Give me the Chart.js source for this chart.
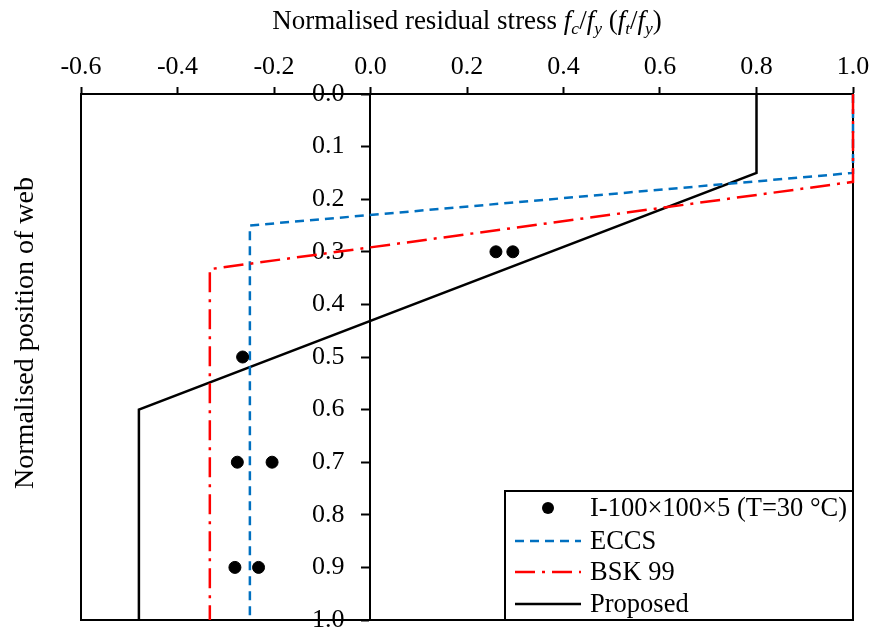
<!DOCTYPE html>
<html><head><meta charset="utf-8">
<script src="https://cdn.jsdelivr.net/npm/chart.js@4.4.0/dist/chart.umd.min.js"></script>
<style>html,body{margin:0;padding:0;background:#fff}#wrap{width:874px;height:635px}</style>
</head><body><div id="wrap"><canvas id="c" width="874" height="635"></canvas></div>
<script>
const xTicks = [-0.6, -0.4, -0.2, 0.0, 0.2, 0.4, 0.6, 0.8, 1.0];
const yTicks = [0.0, 0.1, 0.2, 0.3, 0.4, 0.5, 0.6, 0.7, 0.8, 0.9, 1.0];
const testX = [0.26, 0.295, -0.265, -0.276, -0.204, -0.281, -0.232];
const testY = [0.3, 0.3, 0.5, 0.7, 0.7, 0.9, 0.9];
const eccsX = [1.0, 1.0, -0.25, -0.25];
const eccsY = [0.0, 0.15, 0.25, 1.0];
const bskX = [1.0, 1.0, -0.333, -0.333];
const bskY = [0.0, 0.167, 0.333, 1.0];
const propX = [0.8, 0.8, -0.48, -0.48];
const propY = [0.0, 0.15, 0.6, 1.0];
const labels = ['I-100×100×5 (T=30 °C)', 'ECCS', 'BSK 99', 'Proposed'];

const FONT = '"Liberation Serif", "Times New Roman", serif';
const pts = (xs, ys) => xs.map((x, i) => ({x: x, y: ys[i]}));

const styles = [
  {type: 'point', color: '#000000'},
  {type: 'line', color: '#0070C0', dash: [9, 6]},
  {type: 'line', color: '#FF0000', dash: [20, 7, 3, 7]},
  {type: 'line', color: '#000000', dash: []}
];

function drawRich(ctx, segs, cx, cy, size) {
  let total = 0;
  const parts = segs.map(s => {
    const fs = s.sub ? size * 0.65 : size;
    const f = (s.it ? 'italic ' : '') + fs + 'px ' + FONT;
    ctx.font = f;
    const w = ctx.measureText(s.t).width;
    total += w;
    return {t: s.t, f: f, w: w, dy: s.sub ? size * 0.28 : 0};
  });
  let x = cx - total / 2;
  ctx.textAlign = 'left';
  ctx.textBaseline = 'middle';
  parts.forEach(p => { ctx.font = p.f; ctx.fillText(p.t, x, cy + p.dy); x += p.w; });
}

const decor = {
  id: 'decor',
  beforeDatasetsDraw(chart) {
    const {ctx, chartArea: a} = chart;
    ctx.save();
    ctx.strokeStyle = '#000'; ctx.lineWidth = 2;
    ctx.strokeRect(a.left, a.top, a.right - a.left, a.bottom - a.top);
    ctx.restore();
  },
  afterDraw(chart) {
    const {ctx, chartArea: a} = chart;
    ctx.save();
    ctx.fillStyle = '#000';
    // x title
    drawRich(ctx, [
      {t: 'Normalised residual stress '}, {t: 'f', it: 1}, {t: 'c', it: 1, sub: 1}, {t: '/'},
      {t: 'f', it: 1}, {t: 'y', it: 1, sub: 1}, {t: ' ('}, {t: 'f', it: 1}, {t: 't', it: 1, sub: 1},
      {t: '/'}, {t: 'f', it: 1}, {t: 'y', it: 1, sub: 1}, {t: ')'}
    ], (a.left + a.right) / 2, 22, 27);
    // y title
    ctx.save();
    ctx.translate(26, 333);
    ctx.rotate(-Math.PI / 2);
    ctx.font = '28px ' + FONT;
    ctx.textAlign = 'center'; ctx.textBaseline = 'middle';
    ctx.fillText('Normalised position of web', 0, 0);
    ctx.restore();
    // legend
    const lx = 505, ly = 491, lw = a.right - 505, lh = a.bottom - 491;
    ctx.fillStyle = '#fff';
    ctx.fillRect(lx, ly, lw, lh);
    ctx.strokeStyle = '#000'; ctx.lineWidth = 2;
    ctx.strokeRect(lx, ly, lw, lh);
    const rows = [508, 541, 572, 604];
    styles.forEach((s, i) => {
      const y = rows[i];
      if (s.type === 'point') {
        ctx.fillStyle = s.color;
        ctx.beginPath(); ctx.arc(548, y, 6, 0, Math.PI * 2); ctx.fill();
      } else {
        ctx.strokeStyle = s.color; ctx.lineWidth = 2.5; ctx.setLineDash(s.dash);
        ctx.beginPath(); ctx.moveTo(515, y); ctx.lineTo(581, y); ctx.stroke();
        ctx.setLineDash([]);
      }
      ctx.fillStyle = '#000';
      ctx.font = '26.5px ' + FONT;
      ctx.textAlign = 'left'; ctx.textBaseline = 'middle';
      ctx.fillText(labels[i], 590, y + 1);
    });
    ctx.restore();
  }
};

new Chart(document.getElementById('c'), {
  data: {
    datasets: [
      {type: 'scatter', label: labels[0], data: pts(testX, testY), backgroundColor: '#000', borderColor: '#000', pointRadius: 6, pointHoverRadius: 6, order: 0},
      {type: 'line', label: labels[1], data: pts(eccsX, eccsY), borderColor: styles[1].color, borderWidth: 2.5, borderDash: styles[1].dash, pointRadius: 0, fill: false, tension: 0, clip: false, order: 2},
      {type: 'line', label: labels[2], data: pts(bskX, bskY), borderColor: styles[2].color, borderWidth: 2.5, borderDash: styles[2].dash, pointRadius: 0, fill: false, tension: 0, clip: false, order: 1},
      {type: 'line', label: labels[3], data: pts(propX, propY), borderColor: styles[3].color, borderWidth: 2.5, pointRadius: 0, fill: false, tension: 0, clip: false, order: 3}
    ]
  },
  options: {
    responsive: false, animation: false, devicePixelRatio: 1,
    layout: {padding: {left: 81, right: 21, top: 0, bottom: 15}},
    plugins: {legend: {display: false}, tooltip: {enabled: false}},
    scales: {
      x: {
        type: 'linear', position: 'top', min: -0.6, max: 1.0,
        afterBuildTicks: s => { s.ticks = xTicks.map(v => ({value: v})); },
        afterFit: s => { s.height = 94; },
        ticks: {callback: v => v.toFixed(1), color: '#000', font: {family: FONT, size: 26}, padding: 4, maxRotation: 0},
        grid: {drawOnChartArea: false, drawTicks: true, tickLength: 7, tickWidth: 2, tickColor: '#000'},
        border: {display: true, color: '#000', width: 2}
      },
      y: {
        type: 'linear', reverse: true, min: 0, max: 1, position: {x: 0},
        afterBuildTicks: s => { s.ticks = yTicks.map(v => ({value: v})); },
        afterFit: s => { s.paddingTop = 0; s.paddingBottom = 0; },
        ticks: {callback: v => v.toFixed(1) + '    ', color: '#000', font: {family: FONT, size: 26}},
        grid: {drawOnChartArea: false, drawTicks: true, tickLength: 8, tickWidth: 2, tickColor: '#000'},
        border: {display: true, color: '#000', width: 2}
      }
    }
  },
  plugins: [decor]
});
</script></body></html>
